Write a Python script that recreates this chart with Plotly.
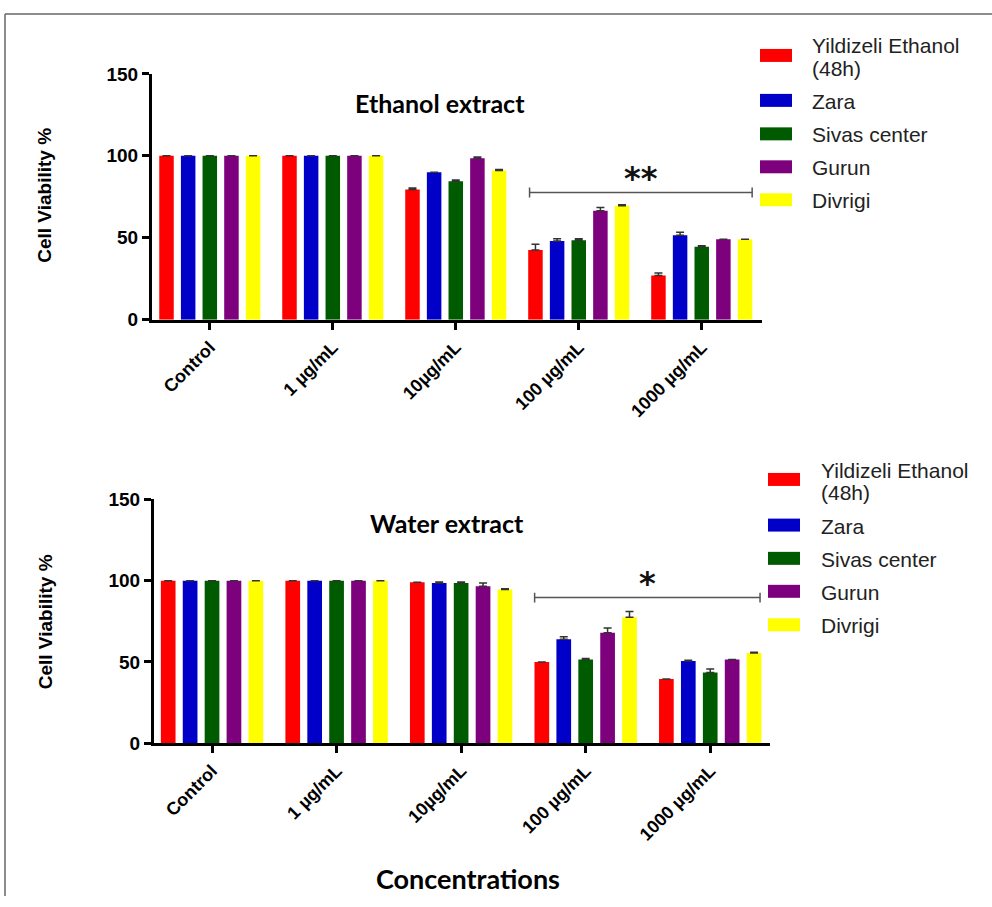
import plotly.graph_objects as go

# ---------------- data ----------------
categories = ["Control", "1 µg/mL", "10µg/mL", "100 µg/mL", "1000 µg/mL"]
series_names = ["Yildizeli Ethanol (48h)", "Zara", "Sivas center", "Gurun", "Divrigi"]
legend_lines = [["Yildizeli Ethanol", "(48h)"], ["Zara"], ["Sivas center"], ["Gurun"], ["Divrigi"]]
colors = ["#FF0000", "#0000C8", "#005A00", "#7D007D", "#FFFF00"]

# Ethanol extract (values per series across categories)
eth_yildizeli = [100, 100, 79.5, 42.5, 27.0]
eth_zara      = [100, 100, 90.0, 48.0, 51.5]
eth_sivas     = [100, 100, 84.5, 48.5, 44.5]
eth_gurun     = [100, 100, 98.5, 66.5, 49.0]
eth_divrigi   = [100, 100, 91.0, 69.5, 49.0]

eth_err_yildizeli = [0, 0, 0.8, 3.5, 1.4]
eth_err_zara      = [0, 0, 0.0, 1.4, 1.8]
eth_err_sivas     = [0, 0, 0.8, 0.8, 0.6]
eth_err_gurun     = [0, 0, 0.8, 2.0, 0.0]
eth_err_divrigi   = [0, 0, 0.6, 0.6, 0.0]

# Water extract
wat_yildizeli = [100, 100, 99.0, 50.0, 39.5]
wat_zara      = [100, 100, 98.5, 64.0, 50.5]
wat_sivas     = [100, 100, 98.5, 51.5, 43.5]
wat_gurun     = [100, 100, 96.5, 68.0, 51.5]
wat_divrigi   = [100, 100, 94.5, 77.5, 55.5]

wat_err_yildizeli = [0, 0, 0.0, 0.0, 0.0]
wat_err_zara      = [0, 0, 0.6, 1.4, 0.5]
wat_err_sivas     = [0, 0, 0.6, 0.6, 2.2]
wat_err_gurun     = [0, 0, 2.0, 2.8, 0.0]
wat_err_divrigi   = [0, 0, 0.5, 3.5, 0.5]

y_ticks = [0, 50, 100, 150]

# significance brackets: (x from, x to, y level, label)
eth_sig = (2.60, 4.41, 77.6, "**")
wat_sig = (2.59, 4.40, 89.6, "*")

eth_values = [eth_yildizeli, eth_zara, eth_sivas, eth_gurun, eth_divrigi]
eth_errors = [eth_err_yildizeli, eth_err_zara, eth_err_sivas, eth_err_gurun, eth_err_divrigi]
wat_values = [wat_yildizeli, wat_zara, wat_sivas, wat_gurun, wat_divrigi]
wat_errors = [wat_err_yildizeli, wat_err_zara, wat_err_sivas, wat_err_gurun, wat_err_divrigi]

# ---------------- layout helpers ----------------
W, H = 992, 907
V_OFF, V_SC = 9.0, 0.978   # vertical calibration of the rendered page
def px(x):
    return x / W
def py(y):
    return 1 - ((y - V_OFF) / V_SC) / H

fig = go.Figure()

for vals_set, errs_set, xa, ya in [(eth_values, eth_errors, "x", "y"), (wat_values, wat_errors, "x2", "y2")]:
    for name, col, vals, errs in zip(series_names, colors, vals_set, errs_set):
        fig.add_trace(go.Bar(
            x=categories, y=vals, name=name, marker=dict(color=col, line=dict(width=0)),
            error_y=dict(type="data", symmetric=False, array=errs, arrayminus=[0] * len(errs),
                         color="#333333", thickness=1.5, width=4),
            xaxis=xa, yaxis=ya, showlegend=False,
        ))

axis_common = dict(showline=True, linewidth=3, linecolor="black", ticks="outside",
                   ticklen=7, tickwidth=3, tickcolor="black", showgrid=False, zeroline=False)
xfont = dict(family="Arial", size=18, color="black", weight="bold")
yfont = dict(family="Arial", size=19, color="black", weight="bold")

fig.update_layout(
    width=W, height=H, margin=dict(l=0, r=0, t=0, b=0),
    paper_bgcolor="white", plot_bgcolor="white",
    barmode="group", bargap=0.12, bargroupgap=0.33,
    xaxis=dict(domain=[px(152), px(762)], anchor="y", range=[-0.47, 4.49], tickangle=-45,
               tickfont=xfont, **axis_common),
    yaxis=dict(domain=[py(319), py(73)], anchor="x", range=[0, 150], tickvals=y_ticks,
               tickfont=yfont, **axis_common),
    xaxis2=dict(domain=[px(154), px(770)], anchor="y2", range=[-0.466, 4.48], tickangle=-45,
                tickfont=xfont, **axis_common),
    yaxis2=dict(domain=[py(743), py(499)], anchor="x2", range=[0, 150], tickvals=y_ticks,
                tickfont=yfont, **axis_common),
)

shapes = []
annotations = []

# border frame
shapes.append(dict(type="line", xref="paper", yref="paper", x0=px(5), x1=px(5), y0=py(13), y1=0,
                   line=dict(color="#666666", width=1.5)))
shapes.append(dict(type="line", xref="paper", yref="paper", x0=px(5), x1=px(992), y0=py(13), y1=py(13),
                   line=dict(color="#666666", width=1.5)))

# significance brackets
for (x0, x1, yl, lab), xr, yr in [(eth_sig, "x", "y"), (wat_sig, "x2", "y2")]:
    shapes.append(dict(type="line", xref=xr, yref=yr, x0=x0, x1=x1, y0=yl, y1=yl,
                       line=dict(color="#555555", width=1.5)))
    for xe in (x0, x1):
        shapes.append(dict(type="line", xref=xr, yref=yr, x0=xe, x1=xe, y0=yl - 3, y1=yl + 3,
                           line=dict(color="#555555", width=1.5)))
    annotations.append(dict(xref=xr, yref=yr, x=(x0 + x1) / 2, y=yl, text="<b>" + lab + "</b>",
                            showarrow=False, xanchor="center", yanchor="bottom", yshift=-6,
                            font=dict(family="DejaVu Sans", size=32, color="#111111")))

def ann(x, y, text, size, family="Arial", color="black", xanchor="center", angle=0):
    annotations.append(dict(xref="paper", yref="paper", x=px(x), y=py(y), text=text,
                            xanchor=xanchor, yanchor="middle", textangle=angle, showarrow=False,
                            font=dict(family=family, size=size, color=color)))

# chart titles
ann(440, 102, "<b>Ethanol extract</b>", 25, family="Lato")
ann(447, 523, "<b>Water extract</b>", 25, family="Lato")
ann(468, 879, "<b>Concentrations</b>", 27, family="Lato")

# y axis titles
for yc in (195, 622):
    ann(45, yc, "<b>Cell Viability %</b>", 19, angle=-90)

# legends (manual swatches)
legend_specs = [
    dict(sx0=760, sx1=792, tx=810, centers=[54.5, 99.5, 133, 166, 199], first_lines=(45.0, 67.5)),
    dict(sx0=768, sx1=800, tx=819, centers=[479, 524.7, 558, 591, 624.5], first_lines=(470.0, 492.5)),
]
for spec in legend_specs:
    for i, (col, lines) in enumerate(zip(colors, legend_lines)):
        c = spec["centers"][i]
        shapes.append(dict(type="rect", xref="paper", yref="paper", x0=px(spec["sx0"]), x1=px(spec["sx1"]),
                           y0=py(c + 6.5), y1=py(c - 6.5), fillcolor=col, line=dict(width=0)))
        ys = spec["first_lines"] if len(lines) == 2 else [c + 1]
        for t, yy in zip(lines, ys):
            ann(spec["tx"], yy, t, 21, color="#222222", xanchor="left")

fig.update_layout(shapes=shapes, annotations=annotations)
fig.write_html("out.html", config={"displayModeBar": False},
               post_script="document.body.style.margin='0';document.body.style.overflow='hidden';")
